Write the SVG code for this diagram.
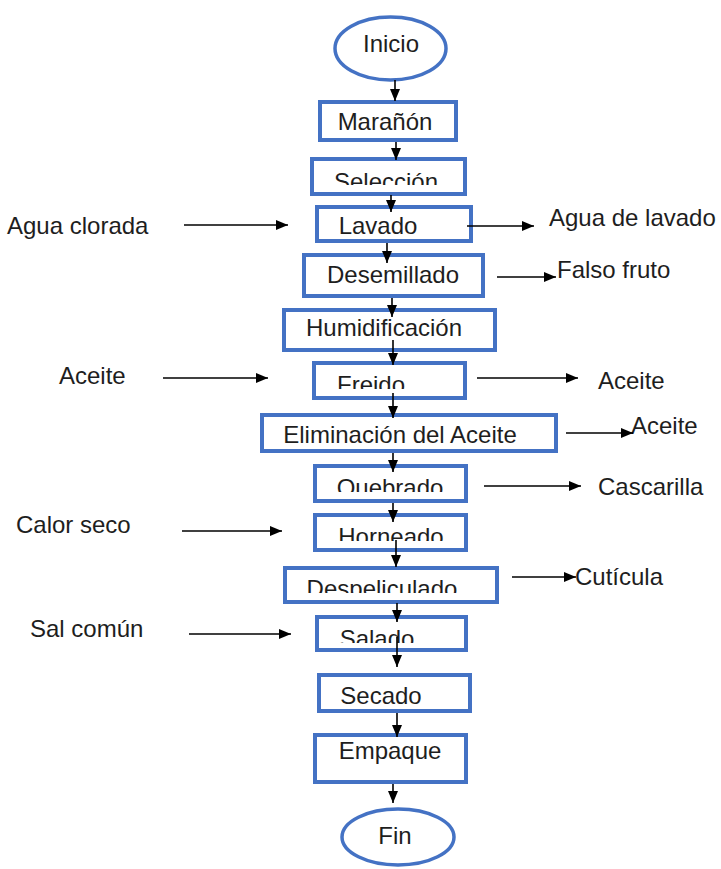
<svg xmlns="http://www.w3.org/2000/svg" width="721" height="869" viewBox="0 0 721 869">
<style>
  .box { fill: #ffffff; stroke: #4472C4; stroke-width: 4; }
  .term { fill: #ffffff; stroke: #4472C4; stroke-width: 3.5; }
  text { font-family: "Liberation Sans", Arial, sans-serif; font-size: 24px; fill: #1e1e1e; }
  .c { text-anchor: middle; }
  .conn line { stroke: #000000; stroke-width: 1.6; marker-end: url(#arr); }
</style>
<defs>
  <marker id="arr" markerUnits="userSpaceOnUse" markerWidth="13" markerHeight="11" refX="12" refY="5" orient="auto">
    <path d="M0,0 L12,5 L0,10 Z" fill="#000000"/>
  </marker>
  <clipPath id="cSel"><rect x="300" y="150" width="180" height="35"/></clipPath>
  <clipPath id="cFre"><rect x="300" y="355" width="180" height="34"/></clipPath>
  <clipPath id="cQue"><rect x="300" y="460" width="180" height="32"/></clipPath>
  <clipPath id="cHor"><rect x="300" y="510" width="180" height="31"/></clipPath>
  <clipPath id="cDes"><rect x="280" y="560" width="230" height="33"/></clipPath>
  <clipPath id="cSal"><rect x="300" y="610" width="180" height="33"/></clipPath>
</defs>
<rect width="721" height="869" fill="#ffffff"/>

<g id="inicio"><ellipse class="term" cx="390.5" cy="48.5" rx="55.5" ry="31.5"/><text class="c" x="391" y="52">Inicio</text></g>
<g id="maranon"><rect class="box" x="320" y="102" width="136" height="38"/><text class="c" x="385" y="130">Marañón</text></g>
<g id="seleccion"><rect class="box" x="312" y="159" width="153" height="35"/><text class="c" x="386" y="190" clip-path="url(#cSel)">Selección</text></g>
<g id="lavado"><rect class="box" x="317" y="207" width="154" height="34"/><text class="c" x="378" y="234">Lavado</text></g>
<g id="desemillado"><rect class="box" x="304" y="255" width="179" height="41"/><text class="c" x="393" y="283">Desemillado</text></g>
<g id="humidificacion"><rect class="box" x="284" y="310" width="211" height="40"/><text class="c" x="384" y="336">Humidificación</text></g>
<g id="freido"><rect class="box" x="314" y="363" width="151" height="35"/><text class="c" x="371" y="393" clip-path="url(#cFre)">Freido</text></g>
<g id="eliminacion"><rect class="box" x="262" y="415" width="294" height="36"/><text class="c" x="400" y="443">Eliminación del Aceite</text></g>
<g id="quebrado"><rect class="box" x="315" y="466" width="151" height="35"/><text class="c" x="390" y="496" clip-path="url(#cQue)">Quebrado</text></g>
<g id="horneado"><rect class="box" x="315" y="515" width="151" height="35"/><text class="c" x="391" y="545" clip-path="url(#cHor)">Horneado</text></g>
<g id="despeliculado"><rect class="box" x="285" y="568" width="212" height="34"/><text class="c" x="382" y="597" clip-path="url(#cDes)">Despeliculado</text></g>
<g id="salado"><rect class="box" x="317" y="617" width="149" height="33"/><text class="c" x="377" y="647" clip-path="url(#cSal)">Salado</text></g>
<g id="secado"><rect class="box" x="319" y="675" width="151" height="36"/><text class="c" x="381" y="704">Secado</text></g>
<g id="empaque"><rect class="box" x="315" y="735" width="151" height="47"/><text class="c" x="390" y="759">Empaque</text></g>
<g id="fin"><ellipse class="term" cx="398" cy="837" rx="56" ry="28"/><text class="c" x="395" y="844">Fin</text></g>

<g id="in-agua-clorada"><text x="7" y="234">Agua clorada</text></g>
<g id="out-agua-lavado"><text x="549" y="226">Agua de lavado</text></g>
<g id="out-falso-fruto"><text x="557" y="278">Falso fruto</text></g>
<g id="in-aceite"><text x="59" y="384">Aceite</text></g>
<g id="out-aceite-1"><text x="598" y="389">Aceite</text></g>
<g id="out-aceite-2"><text x="631" y="434">Aceite</text></g>
<g id="out-cascarilla"><text x="598" y="495">Cascarilla</text></g>
<g id="in-calor-seco"><text x="16" y="533">Calor seco</text></g>
<g id="out-cuticula"><text x="575" y="585">Cutícula</text></g>
<g id="in-sal-comun"><text x="30" y="637">Sal común</text></g>

<g id="connectors" class="conn">
  <line x1="395" y1="80" x2="395" y2="101"/>
  <line x1="396" y1="142" x2="396" y2="160"/>
  <line x1="391" y1="195" x2="391" y2="212"/>
  <line x1="387" y1="243" x2="387" y2="263"/>
  <line x1="392" y1="298" x2="392" y2="317"/>
  <line x1="393" y1="340" x2="393" y2="365"/>
  <line x1="393" y1="393" x2="393" y2="418"/>
  <line x1="393" y1="453" x2="393" y2="472"/>
  <line x1="393" y1="503" x2="393" y2="522"/>
  <line x1="396" y1="540" x2="396" y2="567"/>
  <line x1="397" y1="603" x2="397" y2="622"/>
  <line x1="397" y1="637" x2="397" y2="667"/>
  <line x1="397" y1="713" x2="397" y2="737"/>
  <line x1="393" y1="784" x2="393" y2="803"/>

  <line x1="184" y1="225" x2="288" y2="225"/>
  <line x1="467" y1="226" x2="534" y2="226"/>
  <line x1="497" y1="277" x2="556" y2="277"/>
  <line x1="163" y1="378" x2="268" y2="378"/>
  <line x1="477" y1="378" x2="578" y2="378"/>
  <line x1="566" y1="433" x2="633" y2="433"/>
  <line x1="484" y1="486" x2="581" y2="486"/>
  <line x1="182" y1="531" x2="282" y2="531"/>
  <line x1="512" y1="577" x2="576" y2="577"/>
  <line x1="189" y1="634" x2="291" y2="634"/>
</g>
</svg>
